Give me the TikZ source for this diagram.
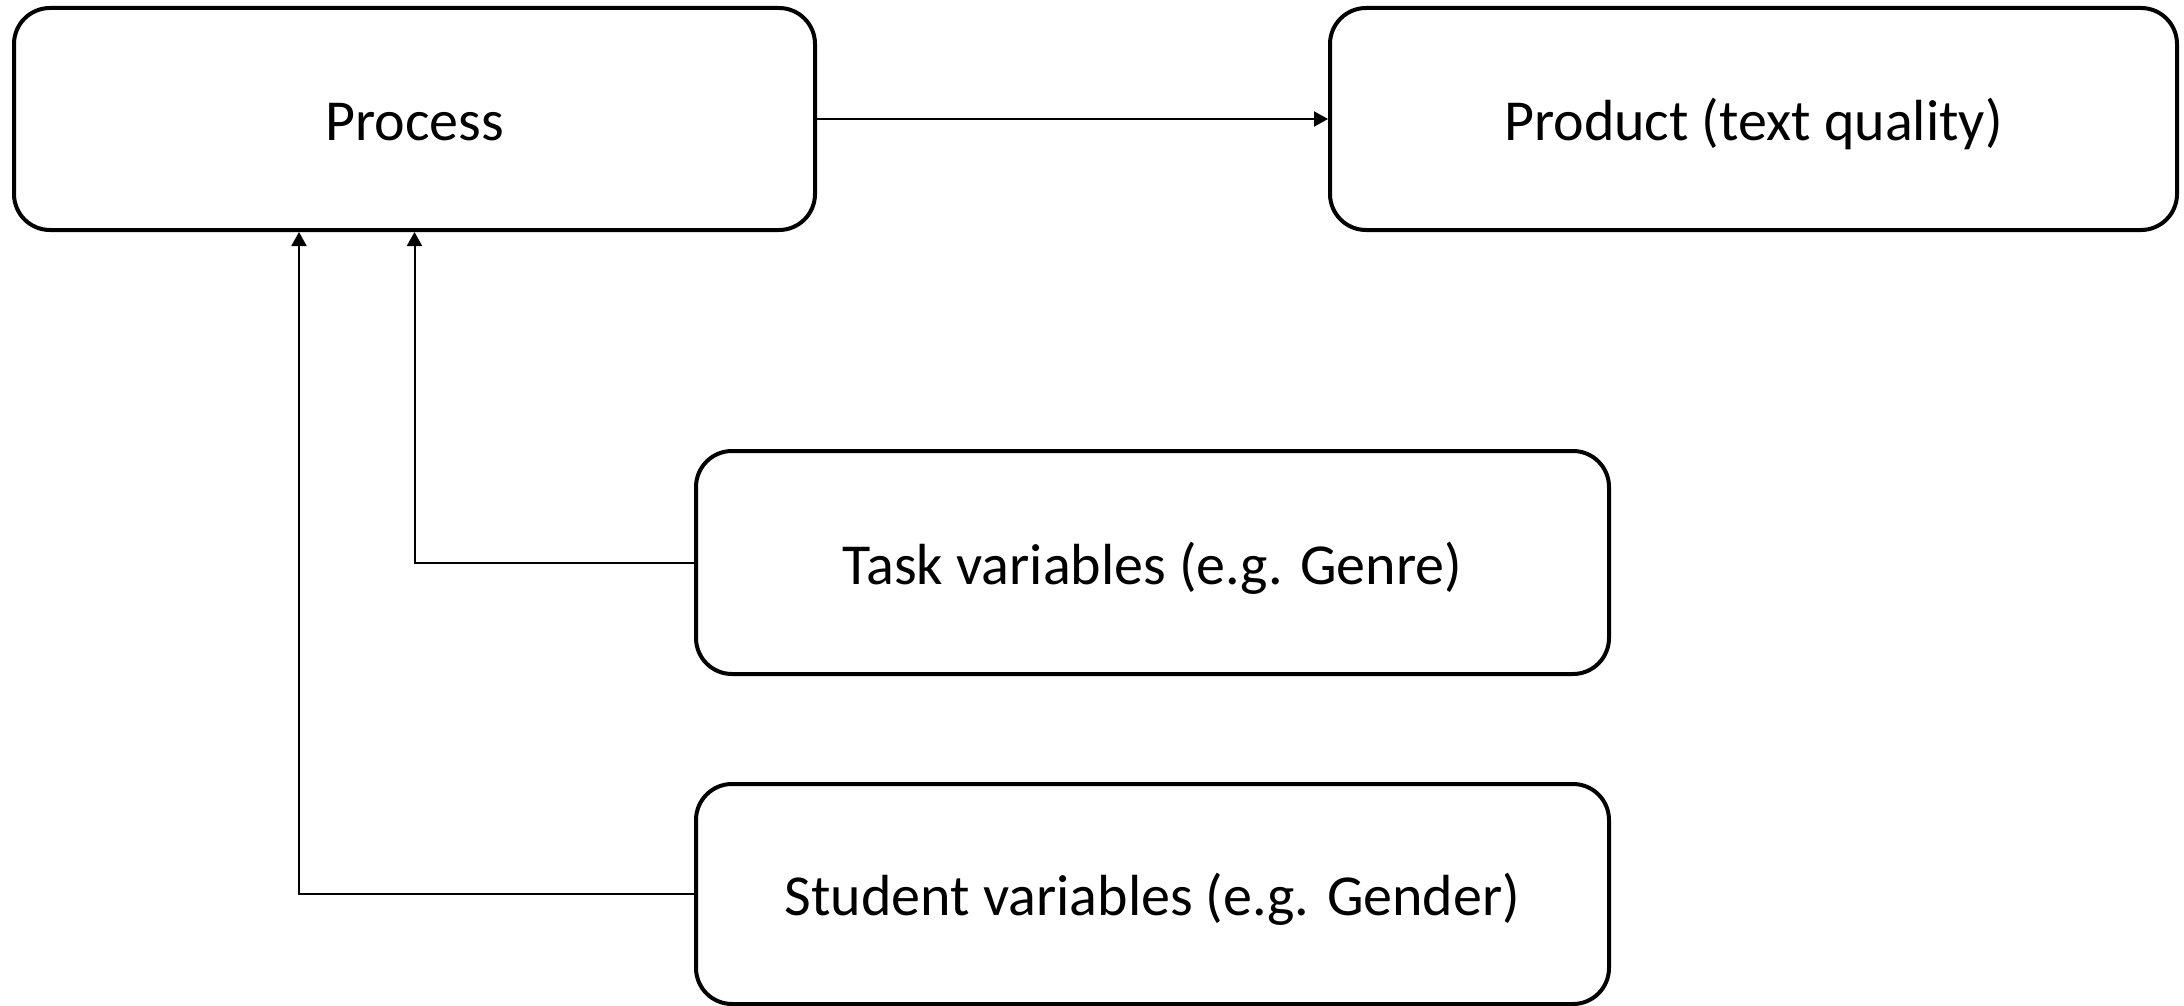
\documentclass[tikz,border=0pt]{standalone}
\usepackage{fontspec}
\setmainfont{Carlito}
\usetikzlibrary{arrows.meta}
\begin{document}
\begin{tikzpicture}[x=0.5pt,y=-0.5pt,
  box/.style={draw=black, line width=2pt, rounded corners=18pt, inner sep=0pt,
    text height=25pt, text depth=3.4pt,
    font=\fontsize{29pt}{35pt}\selectfont, fill=white},
  conn/.style={draw=black, line width=1pt, -{Triangle[length=7pt,width=7.5pt]}}]
\useasboundingbox (0,0) rectangle (2184,1006);
\node[box, minimum width=400.5pt, minimum height=111pt] (process) at (414.5,119) {Process};
\node[box, minimum width=423.5pt, minimum height=111pt] (product) at (1753.5,119) {Product (text quality)};
\node[box, minimum width=456.5pt, minimum height=111.5pt] (task) at (1152.5,562.5) {Task variables (e.g. Genre)};
\node[box, minimum width=456.5pt, minimum height=110pt] (student) at (1152.5,894) {Student variables (e.g. Gender)};
\draw[conn] (process.east) -- (product.west);
\draw[conn] (task.west) -| (process.south);
\draw[conn] (student.west) -| ([xshift=-57.75pt]process.south);
\end{tikzpicture}
\end{document}
